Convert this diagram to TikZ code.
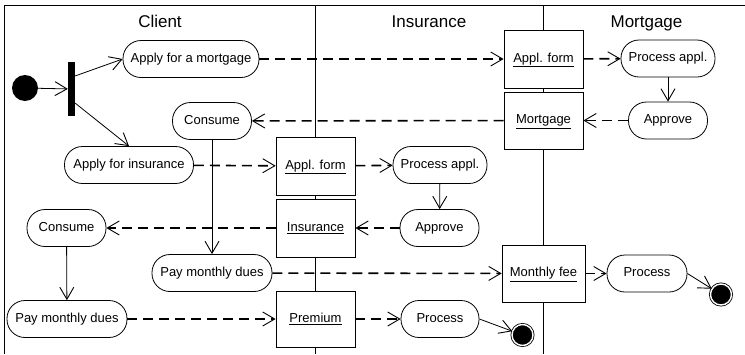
\documentclass[tikz,border=0pt]{standalone}
\usepackage{fontspec}
\setmainfont{Liberation Sans}
\usetikzlibrary{arrows.meta,calc}
\begin{document}
\begin{tikzpicture}[x=1pt,y=-1pt,
  every node/.style={font=\fontsize{13}{15}\selectfont},
  act/.style={draw,line width=0.8pt,fill=white,rounded corners=18pt,minimum height=37pt,inner sep=0pt,text height=9.5pt,text depth=3pt},
  obj/.style={draw,line width=0.8pt,fill=white,minimum width=79pt,inner sep=0pt,text height=9.5pt,text depth=3pt},
  lane/.style={font=\fontsize{17}{20}\selectfont,anchor=base},
  tip/.style={-{Straight Barb[length=12pt,width=14pt,line width=0.9pt]}},
  flow/.style={tip,line width=0.8pt},
  msg/.style={tip,line width=1.6pt,dash pattern=on 10pt off 6pt},
  endnode/.style={circle,fill=black,draw=black,double=white,line width=0.8pt,double distance=1.4pt,minimum size=21pt,inner sep=0pt}
]
\useasboundingbox (0,0) rectangle (745,354);
% frame and swimlanes
\draw[line width=0.8pt] (4,354) -- (4,5) -- (745,5);
\draw[line width=0.8pt] (315,5) -- (315,354);
\draw[line width=0.8pt] (543,5) -- (543,354);
\node[lane] (tc) at (160,27) {Client};
\node[lane] (ti) at (429,27) {Insurance};
\node[lane] (tm) at (646.5,27) {Mortgage};
% start and fork
\node[circle,fill=black,minimum size=26pt,inner sep=0pt] (start) at (25,88) {};
\node[rectangle,fill=black,minimum width=7pt,minimum height=54pt,inner sep=0pt] (fork) at (71.5,89) {};
% client lane
\node[act,minimum width=136pt] (am) at (191,59) {Apply for a mortgage};
\node[act,minimum width=79pt] (c1) at (212,121) {Consume};
\node[act,minimum width=129pt] (ai) at (129,165) {Apply for insurance};
\node[act,minimum width=79pt] (c2) at (66.5,228) {Consume};
\node[act,minimum width=120pt] (pd1) at (212,273) {Pay monthly dues};
\node[act,minimum width=120pt] (pd2) at (67,319) {Pay monthly dues};
% objects on lane 1/2 boundary
\node[obj,minimum height=58pt] (afi) at (315.5,166) {\underline{Appl. form}};
\node[obj,minimum height=58pt] (ins) at (315.5,228) {\underline{Insurance}};
\node[obj,minimum height=56pt] (prem) at (315.5,319) {\underline{Premium}};
% insurance lane
\node[act,minimum width=94pt] (pai) at (440,165) {Process appl.};
\node[act,minimum width=79pt] (api) at (439.5,228) {Approve};
\node[act,minimum width=78pt] (pri) at (440,319) {Process};
\node[endnode] (endi) at (522.5,335) {};
% objects on lane 2/3 boundary
\node[obj,minimum height=58pt] (afm) at (543.5,59) {\underline{Appl. form}};
\node[obj,minimum height=57pt] (mort) at (543.5,120.5) {\underline{Mortgage}};
\node[obj,minimum width=83pt,minimum height=57pt] (mfee) at (543.5,273.5) {\underline{Monthly fee}};
% mortgage lane
\node[act,minimum width=94pt] (pam) at (668,58.5) {Process appl.};
\node[act,minimum width=79pt] (apm) at (668,120.5) {Approve};
\node[act,minimum width=80pt] (prm) at (647,273.5) {Process};
\node[endnode] (endm) at (721,294.5) {};
% control flows
\draw[flow] (start) -- (fork);
\draw[flow] ($(fork.north east)!0.26!(fork.south east)$) -- (am.west);
\draw[flow] ($(fork.north east)!0.76!(fork.south east)$) -- (ai.north);
\draw[flow] (pam) -- (apm);
\draw[flow] (c1) -- (pd1);
\draw[flow] (pai) -- (api);
\draw[flow] (c2) -- (pd2);
\draw[flow] (prm.east) -- (endm);
\draw[flow] (pri.east) -- (endi);
% object flows
\draw[msg] (am) -- (afm);
\draw[msg] (afm) -- (pam);
\draw[msg] (apm) -- (mort);
\draw[msg] (mort) -- (c1);
\draw[msg] (ai) -- (afi);
\draw[msg] (afi) -- (pai);
\draw[msg] (api) -- (ins);
\draw[msg] (ins) -- (c2);
\draw[msg] (pd1) -- (mfee);
\draw[msg] (mfee) -- (prm);
\draw[msg] (pd2) -- (prem);
\draw[msg] (prem) -- (pri);
\end{tikzpicture}
\end{document}
